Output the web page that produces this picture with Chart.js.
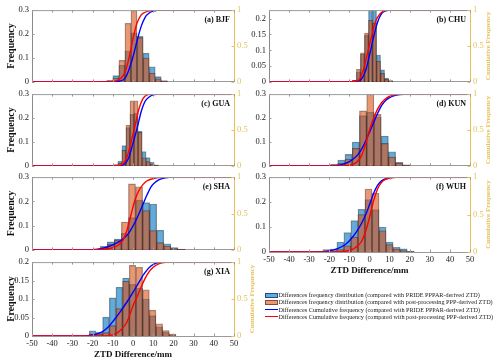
<!DOCTYPE html>
<html><head><meta charset="utf-8">
<script src="https://cdn.jsdelivr.net/npm/chart.js@4.4.1/dist/chart.umd.min.js"></script>
<style>
html,body{margin:0;padding:0;background:#fff;}
body{width:500px;height:362px;overflow:hidden;position:relative;font-family:"Liberation Serif","Times New Roman",serif;}
canvas{position:absolute;}
.lg{position:absolute;left:265px;height:8px;line-height:8px;font-size:6.2px;color:#222;white-space:nowrap;width:240px;}
.sw{position:absolute;left:0;box-sizing:border-box;}
.lt{position:absolute;left:13.5px;top:0;}
</style></head><body>
<script>
// ---------- axis ticks ----------
const xTickValues = [-50,-40,-30,-20,-10,0,10,20,30,40,50];
const freqTicks3 = [0,0.1,0.2,0.3];
const freqTicks2 = [0,0.05,0.1,0.15,0.2];
const cumTicks = [0,0.5,1];

// ---------- (a) BJF ----------
const aCenters = [-14.5,-11.5,-8.5,-5.5,-2.5,0.5,3.5,6.5,9.5,12.5,15.5];
const aBlue    = [0.003,0.006,0.026,0.07,0.13,0.205,0.19,0.12,0.063,0.022,0.005];
const aOrange  = [0.002,0.005,0.016,0.09,0.245,0.30,0.185,0.10,0.037,0.013,0.003];
const aBlueCdf = [[-50,0],[-10,0],[-7,0.01],[-4,0.05],[-2,0.17],[0,0.35],[2,0.57],[4,0.77],[6,0.9],[8,0.96],[10,0.985],[14,1],[50,1]];
const aRedCdf  = [[-50,0],[-12,0],[-9,0.01],[-6,0.05],[-4,0.13],[-2,0.33],[0,0.6],[2,0.82],[4,0.93],[6,0.97],[8,0.99],[12,1],[50,1]];

// ---------- (b) CHU ----------
const bCenters = [-9.5,-7.5,-5.5,-3.5,-1.5,0.5,2.5,4.5,6.5,8.5,10.5];
const bBlue    = [0.002,0.005,0.032,0.088,0.147,0.24,0.24,0.085,0.038,0.012,0.004];
const bOrange  = [0.002,0.005,0.04,0.092,0.154,0.195,0.185,0.065,0.027,0.008,0.003];
const bBlueCdf = [[-50,0],[-9,0],[-6,0.01],[-4,0.04],[-2,0.15],[0,0.37],[2,0.62],[4,0.83],[6,0.95],[8,0.99],[11,1],[50,1]];
const bRedCdf  = [[-50,0],[-10,0],[-7,0.01],[-5,0.04],[-3,0.17],[-1,0.4],[1,0.63],[3,0.84],[5,0.94],[7,0.985],[10,1],[50,1]];

// ---------- (c) GUA ----------
const cCenters = [-10.5,-8.5,-6.5,-4.5,-2.5,-0.5,1.5,3.5,5.5,7.5,9.5,11.5];
const cBlue    = [0.002,0.005,0.02,0.085,0.16,0.215,0.22,0.145,0.06,0.035,0.015,0.004];
const cOrange  = [0.001,0.004,0.012,0.065,0.17,0.272,0.272,0.14,0.034,0.018,0.008,0.002];
const cBlueCdf = [[-50,0],[-9,0],[-6,0.005],[-4,0.03],[-2,0.12],[0,0.32],[2,0.52],[4,0.75],[6,0.9],[8,0.96],[10,0.99],[13,1],[50,1]];
const cRedCdf  = [[-50,0],[-10,0],[-7,0.005],[-5,0.03],[-3,0.12],[-1,0.33],[1,0.56],[3,0.8],[5,0.94],[7,0.99],[10,1],[50,1]];

// ---------- (d) KUN ----------
const dCenters = [-17.6,-14,-10.4,-6.8,-3.2,0.4,4,7.6,11.2,14.8,18.4];
const dBlue    = [0.007,0.024,0.048,0.1,0.21,0.225,0.205,0.125,0.059,0.015,0.004];
const dOrange  = [0.003,0.011,0.028,0.073,0.23,0.31,0.215,0.094,0.037,0.012,0.003];
const dBlueCdf = [[-50,0],[-18,0],[-15,0.01],[-12,0.035],[-10,0.06],[-8,0.1],[-6,0.15],[-4,0.23],[-2,0.34],[0,0.47],[2,0.6],[4,0.73],[6,0.84],[8,0.91],[10,0.95],[12,0.975],[15,0.995],[19,1],[50,1]];
const dRedCdf  = [[-50,0],[-14,0],[-11,0.005],[-8,0.025],[-6,0.06],[-4,0.14],[-2,0.3],[0,0.5],[2,0.66],[4,0.79],[6,0.88],[8,0.935],[10,0.97],[13,0.995],[17,1],[50,1]];

// ---------- (e) SHA ----------
const eCenters = [-18,-14.5,-11,-7.5,-4,-0.5,3,6.5,10,13.5,17,20.5,24];
const eBlue    = [0.004,0.015,0.033,0.045,0.068,0.133,0.205,0.195,0.189,0.081,0.025,0.01,0.003];
const eOrange  = [0.003,0.008,0.024,0.04,0.115,0.272,0.26,0.162,0.08,0.03,0.016,0.005,0.002];
const eBlueCdf = [[-50,0],[-22,0],[-18,0.005],[-14,0.03],[-10,0.07],[-7,0.11],[-5,0.15],[-3,0.2],[-1,0.28],[1,0.38],[3,0.5],[5,0.63],[7,0.76],[9,0.87],[11,0.93],[13,0.965],[16,0.99],[20,1],[50,1]];
const eRedCdf  = [[-50,0],[-20,0],[-15,0.008],[-10,0.03],[-7,0.07],[-5,0.13],[-3,0.27],[-1,0.48],[1,0.69],[3,0.82],[5,0.9],[7,0.95],[10,0.98],[14,0.996],[20,1],[50,1]];

// ---------- (f) WUH ----------
const fCenters = [-25,-21.5,-18,-14.5,-11,-7.5,-4,-0.5,3,6.5,10,13.5,17,20.5];
const fBlue    = [0.003,0.01,0.012,0.04,0.078,0.126,0.171,0.21,0.17,0.1,0.04,0.019,0.013,0.003];
const fOrange  = [0.002,0.003,0.004,0.01,0.025,0.06,0.15,0.252,0.235,0.085,0.03,0.012,0.006,0.002];
const fBlueCdf = [[-50,0],[-25,0],[-20,0.015],[-16,0.045],[-12,0.1],[-9,0.18],[-6,0.29],[-4,0.38],[-2,0.49],[0,0.63],[2,0.78],[4,0.89],[6,0.95],[9,0.985],[14,1],[50,1]];
const fRedCdf  = [[-50,0],[-16,0],[-12,0.01],[-9,0.03],[-7,0.06],[-4,0.14],[-2,0.27],[0,0.46],[2,0.68],[4,0.84],[6,0.93],[8,0.97],[12,0.995],[18,1],[50,1]];

// ---------- (g) XIA ----------
const gCenters = [-20,-16.7,-13.4,-10.1,-6.8,-3.5,-0.2,3.1,6.4,9.7,13,16.3,19.6];
const gBlue    = [0.014,0.01,0.051,0.103,0.132,0.157,0.14,0.13,0.1,0.055,0.025,0.01,0.003];
const gOrange  = [0.005,0.005,0.009,0.028,0.074,0.148,0.191,0.186,0.125,0.07,0.033,0.015,0.005];
const gBlueCdf = [[-50,0],[-24,0],[-20,0.015],[-16,0.045],[-12,0.13],[-9,0.23],[-6,0.34],[-3,0.46],[0,0.59],[3,0.73],[6,0.86],[9,0.95],[12,0.99],[16,1],[50,1]];
const gRedCdf  = [[-50,0],[-16,0],[-12,0.005],[-9,0.025],[-6,0.08],[-3,0.19],[0,0.41],[2,0.53],[4,0.66],[6,0.78],[8,0.87],[10,0.93],[13,0.98],[16,0.997],[20,1],[50,1]];

// ---------- texts ----------
const legendLabels = [
  'Differences frequency distribution (compared with PRIDE PPPAR-derived ZTD)',
  'Differences frequency distribution (compared with post-processing PPP-derived ZTD)',
  'Differences Cumulative frequency (compared with PRIDE PPPAR-derived ZTD)',
  'Differences Cumulative frequency (compared with post-processing PPP-derived ZTD)'
];

const F = '"Liberation Serif","Times New Roman",serif';
const GOLD = '#e6c15a';
const BLUE_FILL = 'rgba(0,114,189,0.6)';
const ORANGE_FILL = 'rgba(217,83,25,0.6)';
const EDGE = 'rgba(0,0,0,0.42)';

const panels = [
  {label:'(a) BJF', c:aCenters, b:aBlue, o:aOrange, bc:aBlueCdf, rc:aRedCdf, yMax:0.3,   yT:freqTicks3, L:32,  R:234, T:10,  B:84,  showX:false, lt:true,  rt:false, xt:false},
  {label:'(b) CHU', c:bCenters, b:bBlue, o:bOrange, bc:bBlueCdf, rc:bRedCdf, yMax:0.227, yT:freqTicks2, L:269, R:470, T:9.5, B:84,  showX:false, lt:false, rt:true,  xt:false},
  {label:'(c) GUA', c:cCenters, b:cBlue, o:cOrange, bc:cBlueCdf, rc:cRedCdf, yMax:0.3,   yT:freqTicks3, L:32,  R:234, T:94,  B:168, showX:false, lt:true,  rt:false, xt:false},
  {label:'(d) KUN', c:dCenters, b:dBlue, o:dOrange, bc:dBlueCdf, rc:dRedCdf, yMax:0.3,   yT:freqTicks3, L:269, R:470, T:94,  B:168, showX:false, lt:false, rt:true,  xt:false},
  {label:'(e) SHA', c:eCenters, b:eBlue, o:eOrange, bc:eBlueCdf, rc:eRedCdf, yMax:0.3,   yT:freqTicks3, L:32,  R:234, T:177, B:252, showX:false, lt:true,  rt:false, xt:false},
  {label:'(f) WUH', c:fCenters, b:fBlue, o:fOrange, bc:fBlueCdf, rc:fRedCdf, yMax:0.3,   yT:freqTicks3, L:269, R:470, T:177, B:252, showX:true,  lt:false, rt:true,  xt:true},
  {label:'(g) XIA', c:gCenters, b:gBlue, o:gOrange, bc:gBlueCdf, rc:gRedCdf, yMax:0.2,   yT:freqTicks2, L:32,  R:234, T:262, B:336, showX:true,  lt:true,  rt:true,  xt:true}
];

const decor = {
  id:'decor',
  afterDatasetsDraw(chart, args, opts){
    const {ctx, chartArea:a, scales} = chart;
    ctx.save();
    ctx.lineWidth = 1;
    ctx.strokeStyle = '#9a9a9a';
    ctx.beginPath();
    ctx.moveTo(a.left, a.top + 0.5); ctx.lineTo(a.right, a.top + 0.5);
    for (const v of xTickValues){
      const px = Math.round(scales.x.getPixelForValue(v)) + 0.5;
      ctx.moveTo(px, a.bottom); ctx.lineTo(px, a.bottom - 2.5);
      ctx.moveTo(px, a.top); ctx.lineTo(px, a.top + 2.5);
    }
    for (const v of opts.yT){
      const py = Math.round(scales.y.getPixelForValue(v)) + 0.5;
      ctx.moveTo(a.left, py); ctx.lineTo(a.left + 2.5, py);
    }
    ctx.stroke();
    ctx.strokeStyle = GOLD;
    ctx.beginPath();
    for (const v of cumTicks){
      const py = Math.round(scales.y2.getPixelForValue(v)) + 0.5;
      ctx.moveTo(a.right, py); ctx.lineTo(a.right - 2.5, py);
    }
    ctx.stroke();
    ctx.fillStyle = '#111';
    ctx.font = 'bold 8px ' + F;
    ctx.textAlign = 'right'; ctx.textBaseline = 'middle';
    ctx.fillText(opts.label, a.right - 4, a.top + 9.5);
    if (opts.rt){
      ctx.translate(a.right + 18.5, (a.top + a.bottom)/2);
      ctx.rotate(-Math.PI/2);
      ctx.fillStyle = GOLD;
      ctx.font = 'bold 7px ' + F;
      ctx.textAlign = 'center';
      ctx.fillText('Cumulative Frequency', 0, 0);
    }
    ctx.restore();
  }
};

function makeChart(p){
  const cv = document.createElement('canvas');
  const W = (p.R - p.L) + 64;
  const H = (p.B - p.T) + 8 + (p.showX ? 26 : 6);
  cv.width = W; cv.height = H;
  cv.style.left = (p.L - 32) + 'px'; cv.style.top = (p.T - 8) + 'px';
  cv.style.width = W + 'px'; cv.style.height = H + 'px';
  document.body.appendChild(cv);
  const barCommon = {type:'bar', borderColor:EDGE, borderWidth:0.7, borderSkipped:'start', grouped:false,
    barPercentage:1, categoryPercentage:1, xAxisID:'x', yAxisID:'y'};
  const lineCommon = {type:'line', borderWidth:1.4, pointRadius:0, cubicInterpolationMode:'monotone', fill:false, xAxisID:'x', yAxisID:'y2'};
  new Chart(cv, {
    type:'bar',
    data:{datasets:[
      Object.assign({}, barCommon, {data:p.c.map((x,i)=>({x, y:p.b[i]})), backgroundColor:BLUE_FILL, order:4}),
      Object.assign({}, barCommon, {data:p.c.map((x,i)=>({x, y:p.o[i]})), backgroundColor:ORANGE_FILL, order:3}),
      Object.assign({}, lineCommon, {data:p.bc.map(([x,y])=>({x,y})), borderColor:'#0000ff', order:2}),
      Object.assign({}, lineCommon, {data:p.rc.map(([x,y])=>({x,y})), borderColor:'#ff0000', order:1})
    ]},
    options:{
      responsive:false, animation:false, devicePixelRatio:1,
      datasets:{bar:{grouped:false, barPercentage:1, categoryPercentage:1}},
      layout:{padding:{top:8,left:0,right:0,bottom:0}},
      plugins:{legend:{display:false}, tooltip:{enabled:false}, decor:{label:p.label, rt:p.rt, yT:p.yT}},
      scales:{
        x:{type:'linear', position:'bottom', min:-50, max:50, offset:false, stacked:true,
          afterBuildTicks:s=>{ s.ticks = xTickValues.map(v=>({value:v})); },
          ticks:{display:p.showX, callback:v=>String(v), font:{family:F, size:8.5}, color:'#222', padding:3, maxRotation:0, autoSkip:false},
          grid:{display:false, drawTicks:false},
          border:{display:true, color:'#9a9a9a', width:1},
          title:{display:p.xt, text:'ZTD Difference/mm', font:{family:F, size:9, weight:'bold'}, color:'#111', padding:{top:0,bottom:2}},
          afterFit:s=>{ s.height = p.showX ? 26 : 6; }
        },
        y:{type:'linear', position:'left', min:0, max:p.yMax, stacked:false,
          afterBuildTicks:s=>{ s.ticks = p.yT.map(v=>({value:v})); },
          ticks:{callback:v=>String(v), font:{family:F, size:8.5}, color:'#222', padding:3},
          grid:{display:false, drawTicks:false},
          border:{display:true, color:'#8a8a8a', width:1},
          title:{display:p.lt, text:'Frequency', font:{family:F, size:10, weight:'bold'}, color:'#111', padding:{top:5,bottom:0}},
          afterFit:s=>{ s.width = 32; }
        },
        y2:{type:'linear', position:'right', min:0, max:1, stacked:false,
          afterBuildTicks:s=>{ s.ticks = cumTicks.map(v=>({value:v})); },
          ticks:{callback:v=>String(v), font:{family:F, size:8.5}, color:GOLD, padding:3},
          grid:{display:false, drawTicks:false},
          border:{display:true, color:GOLD, width:1},
          afterFit:s=>{ s.width = 32; }
        }
      }
    },
    plugins:[decor]
  });
}
panels.forEach(makeChart);

// ---------- legend ----------
const swatches = [
  'top:1.8px;width:13px;height:4.5px;background:'+BLUE_FILL+';border:0.7px solid #1d4e86;',
  'top:1.8px;width:13px;height:4.5px;background:'+ORANGE_FILL+';border:0.7px solid #8a4a30;',
  'top:3.3px;width:13px;height:1.5px;background:#0000ff;',
  'top:3.3px;width:13px;height:1.5px;background:#ff0000;'
];
legendLabels.forEach((txt,i)=>{
  const row = document.createElement('div');
  row.className = 'lg';
  row.style.top = (291.3 + i*7.1) + 'px';
  const sw = document.createElement('span'); sw.className = 'sw'; sw.style.cssText = swatches[i];
  const lt = document.createElement('span'); lt.className = 'lt'; lt.textContent = txt;
  row.appendChild(sw); row.appendChild(lt);
  document.body.appendChild(row);
});
</script>
</body></html>
